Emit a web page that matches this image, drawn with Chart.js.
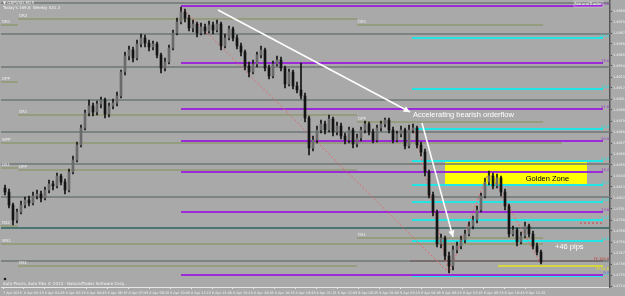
<!DOCTYPE html>
<html>
<head>
<meta charset="utf-8">
<script src="https://cdn.jsdelivr.net/npm/chart.js@4.4.0/dist/chart.umd.min.js"></script>
<style>
    html, body { margin: 0; padding: 0; background: #a9a9a9; overflow: hidden; }
    #wrap { position: relative; width: 625px; height: 296px; }
</style>
</head>
<body>
<div id="wrap"><canvas id="chart" width="625" height="296"></canvas></div>
<script>
// GBPUSD M15 candles (price), open of each bar = previous close
const firstOpen = 1.4812;
const closes = [
    1.4808, 1.4795, 1.4780, 1.4788, 1.4795, 1.4800, 1.4797, 1.4804, 1.4806, 1.4802,
    1.4810, 1.4816, 1.4814, 1.4824, 1.4818, 1.4810, 1.4828, 1.4840, 1.4855, 1.4872,
    1.4887, 1.4894, 1.4888, 1.4896, 1.4900, 1.4886, 1.4894, 1.4897, 1.4904, 1.4928,
    1.4944, 1.4950, 1.4942, 1.4956, 1.4962, 1.4957, 1.4953, 1.4956, 1.4945, 1.4932,
    1.4938, 1.4952, 1.4967, 1.4978, 1.4988, 1.4982, 1.4972, 1.4976, 1.4967, 1.4973,
    1.4969, 1.4975, 1.4970, 1.4976, 1.4954, 1.4962, 1.4971, 1.4962, 1.4954, 1.4948,
    1.4934, 1.4928, 1.4936, 1.4945, 1.4950, 1.4932, 1.4924, 1.4936, 1.4940, 1.4932,
    1.4916, 1.4928, 1.4914, 1.4910, 1.4904, 1.4882, 1.4852, 1.4860, 1.4870, 1.4876,
    1.4870, 1.4881, 1.4868, 1.4874, 1.4864, 1.4860, 1.4870, 1.4856, 1.4862, 1.4870,
    1.4876, 1.4868, 1.4860, 1.4872, 1.4876, 1.4880, 1.4870, 1.4860, 1.4866, 1.4870,
    1.4854, 1.4870, 1.4872, 1.4855, 1.4848, 1.4828, 1.4805, 1.4788, 1.4756, 1.4762,
    1.4744, 1.4734, 1.4750, 1.4754, 1.4760, 1.4766, 1.4774, 1.4780, 1.4790, 1.4804,
    1.4818, 1.4824, 1.4814, 1.4822, 1.4808, 1.4794, 1.4766, 1.4770, 1.4758, 1.4764,
    1.4774, 1.4766, 1.4754, 1.4748, 1.4738
];
const highs = [
    1.4815, 1.4811, 1.4797, 1.4791, 1.4799, 1.4803, 1.4804, 1.4808, 1.4810, 1.4809,
    1.4813, 1.4820, 1.4819, 1.4827, 1.4826, 1.4821, 1.4831, 1.4844, 1.4858, 1.4875,
    1.4890, 1.4900, 1.4897, 1.4899, 1.4903, 1.4902, 1.4897, 1.4901, 1.4908, 1.4930,
    1.4948, 1.4954, 1.4953, 1.4960, 1.4966, 1.4965, 1.4960, 1.4959, 1.4958, 1.4947,
    1.4942, 1.4955, 1.4970, 1.4982, 1.4993, 1.4991, 1.4985, 1.4980, 1.4978, 1.4977,
    1.4976, 1.4979, 1.4978, 1.4980, 1.4978, 1.4966, 1.4974, 1.4973, 1.4965, 1.4957,
    1.4950, 1.4938, 1.4940, 1.4948, 1.4954, 1.4952, 1.4935, 1.4939, 1.4944, 1.4943,
    1.4934, 1.4931, 1.4930, 1.4918, 1.4937, 1.4907, 1.4884, 1.4864, 1.4874, 1.4880,
    1.4879, 1.4885, 1.4883, 1.4878, 1.4877, 1.4867, 1.4873, 1.4872, 1.4866, 1.4873,
    1.4879, 1.4878, 1.4871, 1.4875, 1.4879, 1.4882, 1.4882, 1.4873, 1.4869, 1.4874,
    1.4872, 1.4875, 1.4876, 1.4874, 1.4858, 1.4851, 1.4830, 1.4808, 1.4790, 1.4766,
    1.4764, 1.4748, 1.4754, 1.4758, 1.4764, 1.4770, 1.4778, 1.4784, 1.4794, 1.4807,
    1.4822, 1.4829, 1.4827, 1.4826, 1.4824, 1.4811, 1.4796, 1.4774, 1.4772, 1.4768,
    1.4778, 1.4776, 1.4769, 1.4757, 1.4750
];
const lows = [
    1.4805, 1.4792, 1.4775, 1.4777, 1.4786, 1.4792, 1.4794, 1.4795, 1.4801, 1.4798,
    1.4800, 1.4807, 1.4810, 1.4812, 1.4815, 1.4806, 1.4808, 1.4826, 1.4838, 1.4853,
    1.4870, 1.4884, 1.4884, 1.4885, 1.4892, 1.4882, 1.4883, 1.4891, 1.4894, 1.4902,
    1.4925, 1.4940, 1.4938, 1.4940, 1.4953, 1.4953, 1.4949, 1.4950, 1.4942, 1.4927,
    1.4929, 1.4936, 1.4950, 1.4965, 1.4976, 1.4978, 1.4969, 1.4968, 1.4963, 1.4965,
    1.4966, 1.4967, 1.4966, 1.4968, 1.4950, 1.4952, 1.4960, 1.4959, 1.4951, 1.4944,
    1.4930, 1.4923, 1.4926, 1.4933, 1.4942, 1.4929, 1.4921, 1.4922, 1.4934, 1.4929,
    1.4912, 1.4914, 1.4911, 1.4907, 1.4901, 1.4878, 1.4845, 1.4849, 1.4857, 1.4867,
    1.4866, 1.4868, 1.4864, 1.4865, 1.4861, 1.4856, 1.4857, 1.4852, 1.4853, 1.4859,
    1.4867, 1.4865, 1.4857, 1.4858, 1.4869, 1.4873, 1.4867, 1.4857, 1.4858, 1.4863,
    1.4851, 1.4852, 1.4867, 1.4852, 1.4844, 1.4824, 1.4802, 1.4784, 1.4753, 1.4752,
    1.4740, 1.4727, 1.4730, 1.4747, 1.4751, 1.4757, 1.4764, 1.4771, 1.4777, 1.4788,
    1.4802, 1.4815, 1.4811, 1.4812, 1.4804, 1.4790, 1.4763, 1.4764, 1.4754, 1.4756,
    1.4762, 1.4763, 1.4751, 1.4745, 1.4736
];

// axis labels
const xLabels = [
    '7 Apr 2015', '8 Apr 00:15', '8 Apr 01:45', '8 Apr 03:15', '8 Apr 04:45', '8 Apr 06:15',
    '8 Apr 07:45', '8 Apr 09:15', '8 Apr 10:45', '8 Apr 12:15', '8 Apr 13:45', '8 Apr 15:15',
    '8 Apr 16:45', '8 Apr 18:15', '8 Apr 19:45', '8 Apr 21:15', '8 Apr 22:45', '9 Apr 00:15',
    '9 Apr 01:45', '9 Apr 03:15', '9 Apr 04:45', '9 Apr 06:15', '9 Apr 07:45', '9 Apr 09:15',
    '9 Apr 10:45', '9 Apr 12:15'
];
const yTicks = [
    1.4989, 1.4978, 1.4967, 1.4956, 1.4945, 1.4934, 1.4923, 1.4912, 1.4901, 1.4890,
    1.4879, 1.4868, 1.4857, 1.4846, 1.4835, 1.4824, 1.4813, 1.4802, 1.4791, 1.4780,
    1.4769, 1.4758, 1.4747, 1.4736, 1.4725, 1.4714
];

// horizontal levels
const grayLevels = [1.4997, 1.4966, 1.4933, 1.4900, 1.4868, 1.4836, 1.4803, 1.4739];
const tealLevels = [1.4772];
const purpleFib = [1.4994, 1.4937, 1.4891, 1.4859, 1.4828, 1.4788, 1.4725];
const purpleFibLabels = ['100.0', '78.6', '61.8', '50.0', '38.2', '23.6', '0.0'];
const cyanFib = [1.4962, 1.4911, 1.4871, 1.4839, 1.4815, 1.4798, 1.4780, 1.4759, 1.4724];
const cyanFibLabels = ['100.0', '78.6', '61.8', '50.0', '38.2', '30.9', '23.6', '14.6', '0.0'];
const purpleFrom = 44;      // swing high bar
const cyanFrom = 101.75;

// daily / weekly pivots: [from bar, to bar]
const dayRanges = [[-1, 3.25], [3.25, 88], [88, 134.5]];
const dayPivots = [
    [1.4975, 1.4918, 1.4832, 1.4774],
    [1.4981, 1.4885, 1.4830, 1.4734],
    [1.4975, 1.4878, 1.4762]
];
const dayPivotNames = [
    ['DR1', 'DPP', 'DS1', 'DS2'],
    ['DR2', 'DR1', 'DPP', 'DS1'],
    ['DR1', 'DPP', 'DS1']
];
const weekPivots = [1.4857, 1.4756];
const weekPivotNames = ['WPP', 'WS1'];
const weekPivotEnds = [139.25, 134.5];

// fibo expansion / target lines
const expLevels = [1.4739, 1.4734];
const expLabels = ['FE 100.0', 'FE 61.8'];
const expFrom = [101.25, 123.25];
const bidLevel = 1.4777;

// zigzag (bar, price)
const zigzagA = [[44, 1.4993], [111, 1.4727], [121, 1.4829], [134, 1.4736]];
const zigzagB = [[102, 1.4876], [111, 1.4727]];

// drawn arrows (bar, price)
const arrow1 = [[53.25, 1.4990], [101.25, 1.4888]];
const arrow2 = [[104.25, 1.4877], [112, 1.4763]];

// golden zone box
const zoneBars = [110, 145.5];
const zonePrices = [1.4839, 1.4815];

const X_MIN = -1, X_MAX = 151.25, LINE_END = 149.5;

const opens = closes.map((c, i) => i === 0 ? firstOpen : closes[i - 1]);
const bars = closes.map((c, i) => i);

function hline(price, from, to, color, width, dash) {
    return {
        type: 'line',
        data: [{ x: from, y: price }, { x: to, y: price }],
        borderColor: color,
        borderWidth: width,
        borderDash: dash || [],
        pointRadius: 0,
        order: 5
    };
}

function polyline(points, color, width, dash) {
    return {
        type: 'line',
        data: points.map(p => ({ x: p[0], y: p[1] })),
        borderColor: color,
        borderWidth: width,
        borderDash: dash || [],
        pointRadius: 0,
        tension: 0,
        order: 3
    };
}

const datasets = [];

grayLevels.forEach(p => datasets.push(hline(p, X_MIN, X_MAX, '#6f7777', 1.5)));
tealLevels.forEach(p => datasets.push(hline(p, X_MIN, X_MAX, '#2f6262', 1.5)));
dayRanges.forEach((r, d) => {
    dayPivots[d].forEach(p => datasets.push(hline(p, r[0], r[1], '#8f9a72', 1.5)));
});
weekPivots.forEach((p, k) => datasets.push(hline(p, X_MIN, weekPivotEnds[k], '#8f9a72', 1.5)));
purpleFib.forEach(p => datasets.push(hline(p, purpleFrom, LINE_END, '#9a2bd6', 2)));
cyanFib.forEach(p => datasets.push(hline(p, cyanFrom, LINE_END, '#22e6e6', 2)));
datasets.push(hline(expLevels[0], expFrom[0], LINE_END, '#8c3434', 1.5));
datasets.push(hline(expLevels[1], expFrom[1], LINE_END, '#e6e622', 1.5));
datasets.push(hline(bidLevel, 143.75, LINE_END, '#d83a3a', 1, [2, 2]));

datasets.push(polyline(zigzagA, '#e06a6a', 1, [2, 2]));
datasets.push(polyline(zigzagB, '#e06a6a', 1, [2, 2]));
datasets.push(polyline(arrow1, '#ffffff', 1.5));
datasets.push(polyline(arrow2, '#ffffff', 1.5));

// candles
datasets.push({
    type: 'bar',
    label: 'wicks',
    data: bars.map(i => ({ x: i, y: [lows[i], highs[i]] })),
    backgroundColor: '#141414',
    barThickness: 1,
    grouped: false,
    order: 1
});
datasets.push({
    type: 'bar',
    label: 'bodies',
    data: bars.map(i => ({ x: i, y: [opens[i], closes[i]] })),
    backgroundColor: bars.map(i => closes[i] >= opens[i] ? '#6a6a6a' : '#141414'),
    borderWidth: 0,
    barThickness: 2,
    grouped: false,
    order: 0
});

function arrowHead(ctx, x0, y0, x1, y1, size) {
    const a = Math.atan2(y1 - y0, x1 - x0);
    ctx.beginPath();
    ctx.moveTo(x1, y1);
    ctx.lineTo(x1 - size * Math.cos(a - 0.45), y1 - size * Math.sin(a - 0.45));
    ctx.lineTo(x1 - size * Math.cos(a + 0.45), y1 - size * Math.sin(a + 0.45));
    ctx.closePath();
    ctx.fill();
}

const overlay = {
    id: 'overlay',
    beforeDraw(chart) {
        const ctx = chart.ctx;
        ctx.save();
        ctx.fillStyle = '#a9a9a9';
        ctx.fillRect(0, 0, chart.width, chart.height);
        ctx.restore();
    },
    beforeDatasetsDraw(chart) {
        const ctx = chart.ctx, xs = chart.scales.x, ys = chart.scales.y;
        const x0 = xs.getPixelForValue(zoneBars[0]), x1 = xs.getPixelForValue(zoneBars[1]);
        const y0 = ys.getPixelForValue(zonePrices[0]), y1 = ys.getPixelForValue(zonePrices[1]);
        ctx.save();
        ctx.fillStyle = '#ffff00';
        ctx.fillRect(x0, y0, x1 - x0, y1 - y0);
        ctx.restore();
    },
    afterDatasetsDraw(chart) {
        const ctx = chart.ctx, xs = chart.scales.x, ys = chart.scales.y;
        const area = chart.chartArea;
        const px = v => xs.getPixelForValue(v), py = v => ys.getPixelForValue(v);
        ctx.save();

        // arrow heads
        ctx.fillStyle = '#ffffff';
        [arrow1, arrow2].forEach(a => {
            arrowHead(ctx, px(a[0][0]), py(a[0][1]), px(a[1][0]), py(a[1][1]), 7);
        });

        // annotation texts
        ctx.textBaseline = 'middle';
        ctx.font = '7.5px "Liberation Sans", Arial, sans-serif';
        ctx.fillStyle = '#ffffff';
        ctx.textAlign = 'left';
        ctx.fillText('Accelerating bearish orderflow', px(102), py(1.4885));
        ctx.fillText('+46 pips', px(137.5), py(1.4753));
        ctx.fillStyle = '#000000';
        ctx.textAlign = 'center';
        ctx.fillText('Golden Zone', px(135.6), py(1.4821));

        // fib labels at right edge
        ctx.font = '3.5px "DejaVu Sans", sans-serif';
        ctx.textAlign = 'right';
        ctx.textBaseline = 'bottom';
        ctx.fillStyle = '#9a2bd6';
        purpleFib.forEach((p, k) => ctx.fillText(purpleFibLabels[k], area.right - 1, py(p)));
        ctx.fillStyle = '#22e6e6';
        cyanFib.forEach((p, k) => ctx.fillText(cyanFibLabels[k], area.right - 1, py(p)));
        ctx.fillStyle = '#c83030';
        ctx.fillText(expLabels[0], area.right - 1, py(expLevels[0]));
        ctx.fillStyle = '#e6e622';
        ctx.fillText(expLabels[1], area.right - 1, py(expLevels[1]) + 5);

        // pivot labels
        ctx.textAlign = 'left';
        ctx.fillStyle = '#ececec';
        ctx.font = '4px "DejaVu Sans", sans-serif';
        dayRanges.forEach((r, d) => {
            dayPivots[d].forEach((p, k) => ctx.fillText(dayPivotNames[d][k], Math.max(px(r[0]), area.left) + 1, py(p) - 1));
        });
        weekPivots.forEach((p, k) => ctx.fillText(weekPivotNames[k], area.left + 1, py(p) - 1));

        // chart header / footer
        ctx.font = '4px "DejaVu Sans", sans-serif';
        ctx.textBaseline = 'top';
        ctx.fillStyle = '#f4f4f4';
        ctx.fillText('\u25BC GBPUSD,M15', area.left + 2, 1);
        ctx.fillText("Today's 169.8  Weekly 431.3", area.left + 2, 6);
        ctx.textAlign = 'right';
        ctx.fillText('NaturalTrader', area.right - 8, 2);
        ctx.strokeStyle = '#e0e0e0';
        ctx.lineWidth = 0.5;
        ctx.strokeRect(area.right - 36, 1, 29, 6);
        ctx.textAlign = 'left';
        ctx.textBaseline = 'bottom';
        ctx.fillText('Auto Pivots, Auto Fibs \u00A9 2014 - NaturalTrader Software Corp.', area.left + 2, area.bottom - 1);
        ctx.fillStyle = '#202020';
        ctx.beginPath();
        ctx.arc(area.left + 4, area.bottom - 8, 1.3, 0, Math.PI * 2);
        ctx.fill();

        ctx.restore();
    }
};

new Chart(document.getElementById('chart'), {
    type: 'bar',
    data: { datasets: datasets },
    options: {
        responsive: false,
        animation: false,
        events: [],
        layout: { padding: { top: 1, left: 1, right: 0, bottom: 0 } },
        plugins: { legend: { display: false }, tooltip: { enabled: false } },
        scales: {
            x: {
                type: 'linear',
                min: X_MIN,
                max: X_MAX,
                offset: false,
                grid: { display: true, drawOnChartArea: false, offset: false, tickLength: 2, color: '#e6e6e6' },
                border: { color: '#e6e6e6', width: 1 },
                ticks: {
                    color: '#f2f2f2',
                    font: { size: 3.4, family: 'DejaVu Sans' },
                    align: 'start',
                    maxRotation: 0,
                    autoSkip: false,
                    padding: 2,
                    callback: (v, i) => xLabels[i]
                },
                afterBuildTicks: s => { s.ticks = xLabels.map((l, k) => ({ value: -0.5 + 5.225 * k })); },
                afterFit: s => { s.height = 9; s.paddingLeft = 0; s.paddingRight = 0; }
            },
            y: {
                position: 'right',
                min: 1.4713,
                max: 1.4999,
                grid: { display: true, drawOnChartArea: false, tickLength: 2, color: '#555555' },
                border: { color: '#555555', width: 1.5 },
                ticks: {
                    color: '#f2f2f2',
                    font: { size: 3.4, family: 'DejaVu Sans' },
                    padding: 1,
                    callback: v => v.toFixed(5)
                },
                afterBuildTicks: s => { s.ticks = yTicks.map(v => ({ value: v })); },
                afterFit: s => { s.height = undefined; s.width = 15; s.paddingTop = 0; s.paddingBottom = 0; }
            }
        }
    },
    plugins: [overlay]
});
</script>
</body>
</html>
